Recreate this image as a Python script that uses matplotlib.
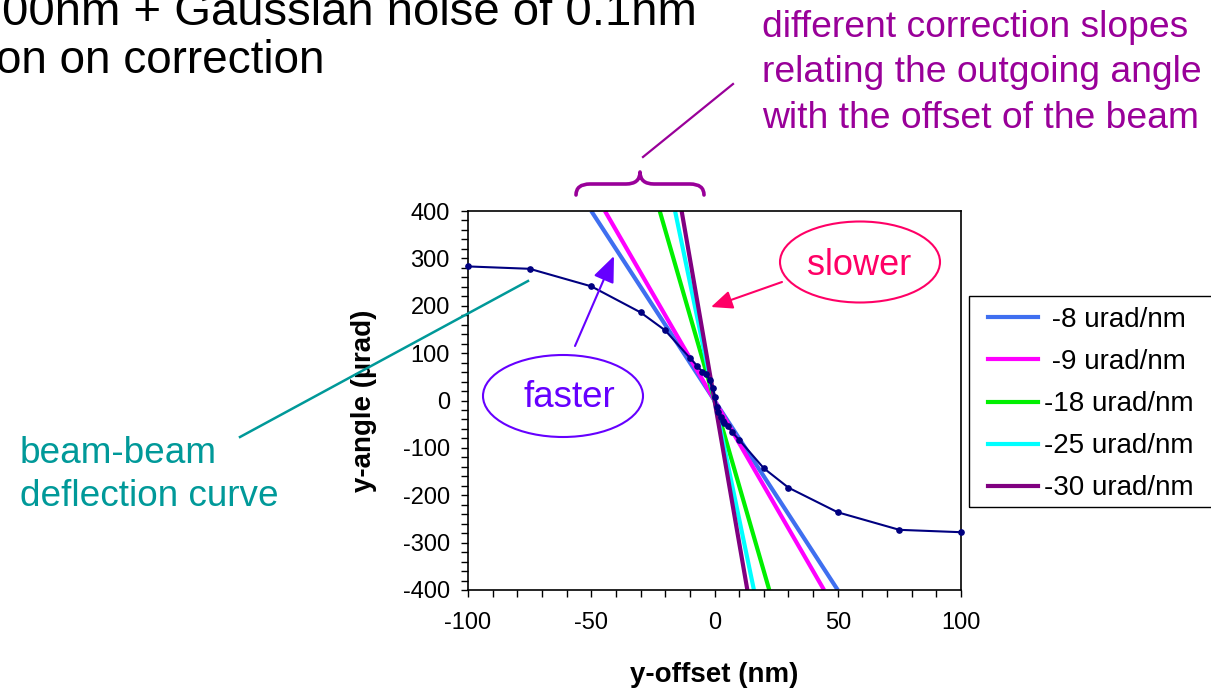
import numpy as np
import matplotlib
matplotlib.use("Agg")
import matplotlib.pyplot as plt
from matplotlib.lines import Line2D
from matplotlib.patches import Ellipse, FancyArrowPatch, Rectangle, PathPatch
from matplotlib.path import Path

plt.rcParams['font.family'] = ['Liberation Sans', 'DejaVu Sans']
plt.rcParams['axes.unicode_minus'] = False

# ---------------- data ----------------
curve_x = [-100, -75, -50, -30, -20, -10, -7, -5, -3.5, -2, -0.7, 0.2,
           0.9, 1.5, 2.5, 3.3, 4, 5.6, 7, 10, 20, 30, 50, 75, 100]
curve_y = [283, 278, 241, 186, 148, 90, 73, 61, 56, 43, 26, 8,
           -13, -24, -34, -43, -48, -54, -66, -83, -143, -184, -236, -273, -278]

slopes = [-8, -9, -18, -25, -30]
slope_labels = [" -8 urad/nm", " -9 urad/nm", "-18 urad/nm", "-25 urad/nm", "-30 urad/nm"]
slope_colors = ["#3F6FF0", "#FF00FF", "#00F000", "#00FFFF", "#800080"]

x_ticks = [-100, -50, 0, 50, 100]
y_ticks = [-400, -300, -200, -100, 0, 100, 200, 300, 400]

# ---------------- figure ----------------
W, H = 1211, 688
fig = plt.figure(figsize=(W / 100, H / 100), dpi=100)


def P(x, y):
    return (x / W, 1 - y / H)


ax = fig.add_axes([468 / W, 1 - 590 / H, (961 - 468) / W, (590 - 211) / H])
ax.set_xlim(-100, 100)
ax.set_ylim(-400, 400)

for s, c in zip(slopes, slope_colors):
    xs = np.array(ax.get_ylim()[::-1]) / s  # reaches y = +/-400
    ax.plot(xs, s * xs, color=c, lw=3.0, solid_capstyle='butt', zorder=2)

ax.plot(curve_x, curve_y, color="#000080", lw=1.5, marker='o', ms=3.8,
        zorder=4, clip_on=False)

ax.set_xticks(x_ticks)
ax.set_yticks(y_ticks)
ax.set_xticks(np.arange(-100, 101, 10), minor=True)
ax.set_yticks(np.arange(-400, 401, 20), minor=True)
ax.tick_params(axis='both', which='both', direction='out', length=5, width=1,
               labelsize=17, top=False, right=False)
ax.tick_params(axis='x', which='major', pad=11)
ax.tick_params(axis='y', which='major', pad=8)
for sp in ax.spines.values():
    sp.set_linewidth(1.2)

ax.set_xlabel("y-offset (nm)", fontsize=20, fontweight='bold')
ax.set_ylabel("y-angle (µrad)", fontsize=20, fontweight='bold')
ax.xaxis.set_label_coords(0.5, -0.19)
ax.yaxis.set_label_coords(-0.185, 0.5)

# ---------------- legend ----------------
handles = [Line2D([], [], color=c, lw=3) for c in slope_colors]
fig.legend(handles, slope_labels, loc='upper left', bbox_to_anchor=P(988, 307),
           frameon=False, fontsize=20, handlelength=1.8, handletextpad=0.2,
           labelspacing=0.58, borderpad=0, borderaxespad=0)
fig.add_artist(Rectangle(P(969, 507), (1230 - 969) / W, (507 - 296) / H,
                         transform=fig.transFigure, fill=False, ec='black', lw=1))

# ---------------- annotations ----------------
purple = "#990099"
pink = "#FF0066"
violet = "#6600FF"
teal = "#009999"

fig.text(*P(697, 25), "00nm + Gaussian noise of 0.1nm", fontsize=34, ha='right',
         va='baseline', color='black')
fig.text(*P(325, 73), "on on correction", fontsize=33, ha='right',
         va='baseline', color='black')

for txt, yb in zip(["different correction slopes", "relating the outgoing angle",
                    "with the offset of the beam"], [37, 82.5, 128]):
    fig.text(*P(762, yb), txt, fontsize=26.8, color=purple, ha='left', va='baseline')

fig.add_artist(Line2D([643 / W, 733 / W], [1 - 157 / H, 1 - 84 / H],
                      transform=fig.transFigure, color=purple, lw=1.6))

# curly brace
bx = [576, 576, 590, 626, 640, 640, 640, 654, 690, 704, 704]
by = [195, 184, 184, 184, 184, 172, 184, 184, 184, 184, 195]
codes = [Path.MOVETO, Path.CURVE3, Path.CURVE3, Path.LINETO, Path.CURVE3, Path.CURVE3,
         Path.CURVE3, Path.CURVE3, Path.LINETO, Path.CURVE3, Path.CURVE3]
verts = [P(x, y) for x, y in zip(bx, by)]
fig.add_artist(PathPatch(Path(verts, codes), transform=fig.transFigure, fill=False,
                         ec=purple, lw=2.6, capstyle='round', joinstyle='round'))

# slower
fig.add_artist(Ellipse(P(860, 262), 160 / W, 81 / H, transform=fig.transFigure,
                       fill=False, ec=pink, lw=1.5))
fig.text(*P(859, 275), "slower", fontsize=26, color=pink, ha='center', va='baseline')
fig.add_artist(FancyArrowPatch(P(782, 282), P(711, 307), transform=fig.transFigure,
                               arrowstyle='-|>,head_length=0.65,head_width=0.28',
                               mutation_scale=20, color=pink, lw=1.5,
                               shrinkA=0, shrinkB=0))

# faster
fig.add_artist(Ellipse(P(563, 396), 160 / W, 82 / H, transform=fig.transFigure,
                       fill=False, ec=violet, lw=1.5))
fig.text(*P(569, 407), "faster", fontsize=26.5, color=violet, ha='center', va='baseline')
fig.add_artist(FancyArrowPatch(P(575, 346), P(614, 256), transform=fig.transFigure,
                               arrowstyle='-|>,head_length=0.8,head_width=0.33',
                               mutation_scale=20, color=violet, lw=1.5,
                               shrinkA=0, shrinkB=0))

# beam-beam deflection curve
fig.text(*P(20, 463), "beam-beam", fontsize=26.6, color=teal, ha='left', va='baseline')
fig.text(*P(20, 506), "deflection curve", fontsize=26.6, color=teal, ha='left', va='baseline')
fig.add_artist(Line2D([240 / W, 528 / W], [1 - 437 / H, 1 - 281 / H],
                      transform=fig.transFigure, color=teal, lw=1.8))

fig.savefig("out.png", dpi=100)
